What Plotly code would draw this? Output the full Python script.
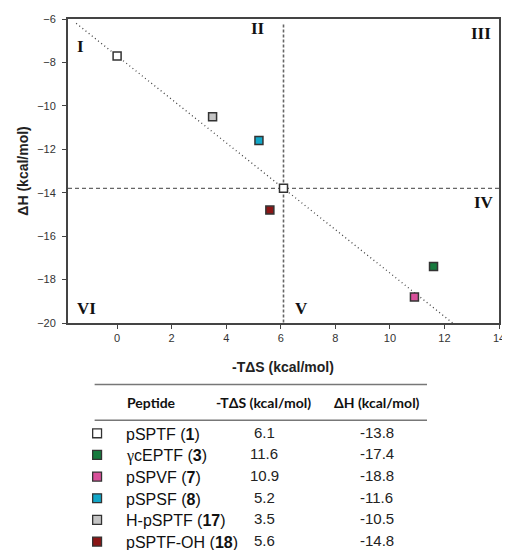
import plotly.graph_objects as go

# ---------------- data ----------------
peptides = ["pSPTF", "γcEPTF", "pSPVF", "pSPSF", "H-pSPTF", "pSPTF-OH"]
compound_no = ["1", "3", "7", "8", "17", "18"]
minus_TdS = [6.1, 11.6, 10.9, 5.2, 3.5, 5.6]
dH = [-13.8, -17.4, -18.8, -11.6, -10.5, -14.8]
colors = ["#ffffff", "#177a3e", "#d8509a", "#12a7c8", "#c4c4c4", "#8a1616"]

ref_x = [0.0]
ref_y = [-7.7]

diag_x = [-1.5, 12.3]
diag_y = [-6.2, -20.0]

vline_x = [6.1, 6.1]
vline_y = [-6.25, -20.0]
hline_x = [-1.8, 14.0]
hline_y = [-13.8, -13.8]

regions = ["I", "II", "III", "IV", "V", "VI"]
region_x = [-1.35, 5.15, 13.33, 13.45, 6.77, -1.13]
region_y = [-7.27, -6.45, -6.67, -14.47, -19.33, -19.33]

x_ticks = [0, 2, 4, 6, 8, 10, 12, 14]
y_ticks = [-6, -8, -10, -12, -14, -16, -18, -20]

# ---------------- figure ----------------
OFF = 8  # default page body margin
W, H = 510 - OFF, 550 - OFF
ML, MT = 68 - OFF, 17 - OFF
MR = W - (505 - OFF)
MB = H - (323 - OFF)
PW, PH = W - ML - MR, H - MT - MB


def px(xp, yp):
    """screen pixel -> paper coords"""
    fx, fy = xp - OFF, yp - OFF
    return (fx - ML) / PW, (H - MB - fy) / PH


fig = go.Figure()

fig.add_trace(go.Scatter(x=diag_x, y=diag_y, mode="lines",
                         line=dict(color="#444444", width=1.3, dash="1px,3px"),
                         hoverinfo="skip", showlegend=False))
fig.add_trace(go.Scatter(x=vline_x, y=vline_y, mode="lines",
                         line=dict(color="#666666", width=1.6, dash="3px,2px"),
                         hoverinfo="skip", showlegend=False))
fig.add_trace(go.Scatter(x=hline_x, y=hline_y, mode="lines",
                         line=dict(color="#666666", width=1.3, dash="4px,3px"),
                         hoverinfo="skip", showlegend=False))

fig.add_trace(go.Scatter(x=ref_x, y=ref_y, mode="markers",
                         marker=dict(symbol="square", size=8, color="#ffffff",
                                     line=dict(color="#333333", width=1.5)),
                         showlegend=False))
fig.add_trace(go.Scatter(x=minus_TdS, y=dH, mode="markers",
                         marker=dict(symbol="square", size=8, color=colors,
                                     line=dict(color="#333333", width=1.5)),
                         showlegend=False))

annotations = []
for t, xx, yy in zip(regions, region_x, region_y):
    annotations.append(dict(x=xx, y=yy, xref="x", yref="y", text=f"<b>{t}</b>",
                            showarrow=False, xanchor="center", yanchor="middle",
                            font=dict(family="Liberation Serif", size=17, color="#111111")))

# axis titles
ax, ay = px(286, 367)
annotations.append(dict(x=ax, y=ay, xref="paper", yref="paper",
                        text="<b>-TΔS (kcal/mol)</b>", showarrow=False,
                        xanchor="center", yanchor="middle",
                        font=dict(family="Liberation Sans", size=14, color="#222222")))
ax, ay = px(22, 170)
annotations.append(dict(x=ax, y=ay, xref="paper", yref="paper", textangle=-90,
                        text="<b>ΔH (kcal/mol)</b>", showarrow=False,
                        xanchor="center", yanchor="middle",
                        font=dict(family="Liberation Sans", size=14, color="#222222")))

# ---------------- table ----------------
shapes = []
for yl in [385, 421]:
    x0, y0 = px(95, yl)
    x1, _ = px(432, yl)
    shapes.append(dict(type="line", xref="paper", yref="paper", x0=x0, x1=x1, y0=y0, y1=y0,
                       line=dict(color="#777777", width=1.5)))

hdr_font = dict(family="Lato", size=14, color="#111111")
for txt, xp, anc in [("<b>Peptide</b>", 126, "left"),
                     ("<b>-TΔS (kcal/mol)</b>", 266, "center"),
                     ("<b>ΔH (kcal/mol)</b>", 381, "center")]:
    hx, hy = px(xp, 403)
    annotations.append(dict(x=hx, y=hy, xref="paper", yref="paper", text=txt,
                            showarrow=False, xanchor=anc, yanchor="middle", font=hdr_font))

row_font = dict(family="Liberation Sans", size=16, color="#111111")
num_font = dict(family="Liberation Sans", size=15, color="#222222")
for i, (p, n, s, h, c) in enumerate(zip(peptides, compound_no, minus_TdS, dH, colors)):
    ry = 434 + 21.8 * i
    # marker square
    x0, y0 = px(93, ry - 4.5)
    x1, y1 = px(102, ry + 4.5)
    shapes.append(dict(type="rect", xref="paper", yref="paper", x0=x0, x1=x1, y0=y0, y1=y1,
                       fillcolor=c, line=dict(color="#333333", width=1.3)))
    name = p
    if p.startswith("γ"):
        name = "<span style='font-family:Liberation Serif'>γ</span>" + p[1:]
    tx, ty = px(125, ry + 1)
    annotations.append(dict(x=tx, y=ty, xref="paper", yref="paper",
                            text=f"{name} (<b>{n}</b>)", showarrow=False,
                            xanchor="left", yanchor="middle", font=row_font))
    tx, ty = px(267, ry - 1)
    annotations.append(dict(x=tx, y=ty, xref="paper", yref="paper",
                            text=f"{s:.1f}", showarrow=False, xanchor="center",
                            yanchor="middle", font=num_font))
    tx, ty = px(381, ry - 1)
    annotations.append(dict(x=tx, y=ty, xref="paper", yref="paper",
                            text=f"{h:.1f}", showarrow=False, xanchor="center",
                            yanchor="middle", font=num_font))

fig.update_layout(
    width=W, height=H, autosize=False,
    margin=dict(l=ML, r=MR, t=MT, b=MB),
    paper_bgcolor="white", plot_bgcolor="white",
    annotations=annotations, shapes=shapes,
    xaxis=dict(range=[-1.8, 14], tickvals=x_ticks, ticks="outside", ticklen=4,
               tickcolor="#444444", showgrid=False, zeroline=False,
               showline=True, linecolor="#444444", linewidth=2, mirror=True,
               tickfont=dict(family="Liberation Sans", size=11, color="#333333")),
    yaxis=dict(range=[-20, -6], tickvals=y_ticks, ticks="outside", ticklen=4,
               tickcolor="#444444", showgrid=False, zeroline=False,
               showline=True, linecolor="#444444", linewidth=2, mirror=True,
               ticklabelstandoff=4,
               tickfont=dict(family="Liberation Sans", size=11, color="#333333")),
)

fig.write_html("out.html")
